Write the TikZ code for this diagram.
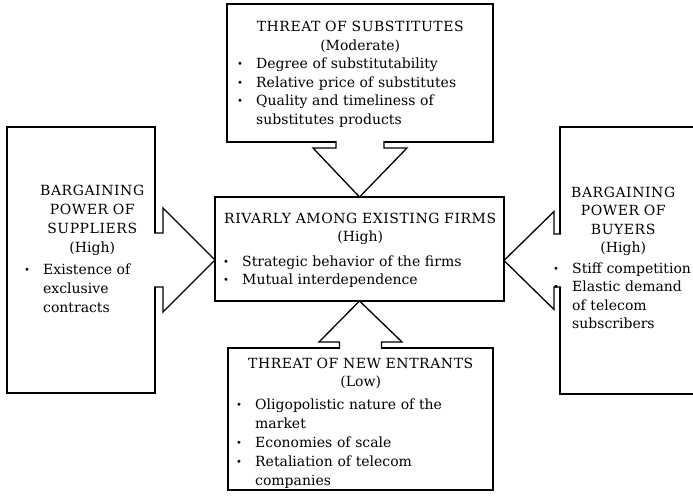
\documentclass[tikz,border=0pt]{standalone}
\usepackage{fontspec}
\setmainfont{DejaVu Serif}
\newfontfamily\capsfont[LetterSpace=4]{DejaVu Serif}
\usetikzlibrary{positioning,calc}

\tikzset{
  box/.style={draw, line width=1.3pt, inner sep=0pt, outer sep=0pt},
  txt/.style={inner sep=0pt, anchor=base west, font=\fontsize{14}{18.5}\selectfont},
  arw/.style={draw, fill=white, line width=1.3pt, line join=miter},
}
\newcommand{\ttl}[1]{\makebox[\hsize][c]{#1}\par}
\newcommand{\cps}[1]{\ttl{\capsfont #1}}
\newcommand{\bul}{\makebox[19pt][l]{\raisebox{1pt}{\fontsize{10}{10}\selectfont\textbullet}}}
\newcommand{\itm}[1]{\noindent\bul\begin{tabular}[t]{@{}l@{}}#1\end{tabular}\par}

\begin{document}
\begin{tikzpicture}[x=1pt,y=-1pt]
\useasboundingbox (0,0) rectangle (693,500);
\clip (0,0) rectangle (693,500);

% the five forces
\node[box, minimum width=266pt, minimum height=138pt] (sub) at (360,73) {};
\node[box, minimum width=148pt, minimum height=266pt] (sup) at (81,260) {};
\node[box, minimum width=289pt, minimum height=104pt] (riv) at (359.5,249) {};
\node[box, minimum width=200pt, minimum height=267pt] (buy) at (660,260.5) {};
\node[box, minimum width=265pt, minimum height=142pt] (ent) at (360.5,419) {};

% block arrows into the rivalry box
\draw[arw] ($(sub.south)+(-24,-1)$) -- ++(0,7) -- ++(-23,0) -- (riv.north)
  -- ($(sub.south)+(47,6)$) -- ++(-23,0) -- ++(0,-7);
\draw[arw] ($(sup.east)+(-1,-27)$) -- ++(9,0) -- ++(0,-25) -- (riv.west |- sup.east)
  -- ($(sup.east)+(8,52)$) -- ++(0,-25) -- ++(-9,0);
\draw[arw] ($(buy.west)+(1,-26.5)$) -- ++(-7,0) -- ++(0,-22.5) -- (riv.east |- buy.west)
  -- ($(buy.west)+(-6,49)$) -- ++(0,-22.5) -- ++(7,0);
\draw[arw] ($(ent.north)+(-21,1)$) -- ++(0,-7) -- ++(-20.5,0) -- (riv.south)
  -- ($(ent.north)+(41.5,-6)$) -- ++(-20.5,0) -- ++(0,7);

% texts
\node[txt, text width=246pt] (subT) at (237,32) {%
  \cps{THREAT OF SUBSTITUTES}\ttl{(Moderate)}%
  \itm{Degree of substitutability}%
  \itm{Relative price of substitutes}%
  \itm{Quality and timeliness of\\substitutes products}};
\node[txt, text width=136pt, font=\fontsize{14}{19}\selectfont] (supT) at (24,195) {%
  \cps{BARGAINING}\cps{POWER OF}\cps{SUPPLIERS}\ttl{(High)}\vspace{3pt}%
  \itm{Existence of\\exclusive\\contracts}};
\node[txt, text width=274pt] (rivT) at (223,223) {%
  \cps{RIVARLY AMONG EXISTING FIRMS}\ttl{(High)}\vspace{6pt}%
  \itm{Strategic behavior of the firms}%
  \itm{Mutual interdependence}};
\node[txt, text width=140pt] (buyT) at (553,197) {%
  \cps{BARGAINING}\cps{POWER OF}\cps{BUYERS}\ttl{(High)}\vspace{2pt}%
  \itm{Stiff competition}%
  \itm{Elastic demand\\of telecom\\subscribers}};
\node[txt, text width=249pt, font=\fontsize{14}{18.7}\selectfont] (entT) at (236,368) {%
  \cps{THREAT OF NEW ENTRANTS}\ttl{(Low)}\vspace{4pt}%
  \itm{Oligopolistic nature of the\\market}%
  \itm{Economies of scale}%
  \itm{Retaliation of telecom\\companies}};

\end{tikzpicture}
\end{document}
